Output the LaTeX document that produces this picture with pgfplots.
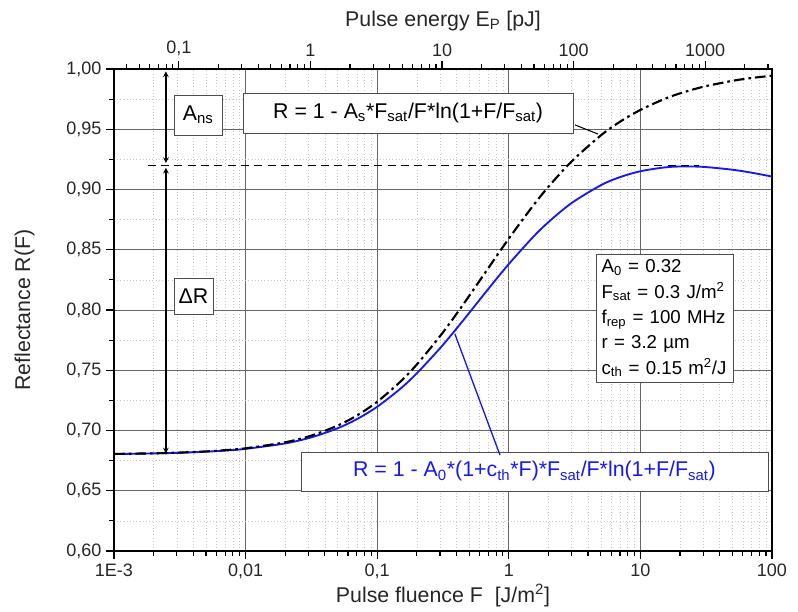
\documentclass[border=0pt]{standalone}
\usepackage{fontspec}
\setmainfont{Liberation Sans}
\usepackage{pgfplots}
\pgfplotsset{compat=1.18}
\definecolor{fitBlue}{RGB}{25,25,235}

\begin{document}
\begin{tikzpicture}
\begin{axis}[
    name=main,
    scale only axis,
    width=493.5pt, height=361.5pt,
    xmode=log,
    xmin=1e-3, xmax=100,
    ymin=0.6, ymax=1.0,
    xtick={0.001,0.01,0.1,1,10,100},
    xticklabels={1E-3,{0,01},{0,1},1,10,100},
    minor xtick={0.002,0.003,0.004,0.005,0.006,0.007,0.008,0.009,
                 0.02,0.03,0.04,0.05,0.06,0.07,0.08,0.09,
                 0.2,0.3,0.4,0.5,0.6,0.7,0.8,0.9,
                 2,3,4,5,6,7,8,9,20,30,40,50,60,70,80,90},
    ytick={0.60,0.65,0.70,0.75,0.80,0.85,0.90,0.95,1.00},
    minor ytick={0.625,0.675,0.725,0.775,0.825,0.875,0.925,0.975},
    grid=both,
    major grid style={draw=black!60, line width=0.5pt},
    minor grid style={draw=black!22, dotted},
    tick align=outside,
    xtick pos=bottom, ytick pos=left,
    major tick length=6pt, minor tick length=3.5pt,
    axis line style={line width=1.3pt},
    every tick/.style={black, line width=0.8pt},
    ticklabel style={font=\fontsize{13.5}{15}\selectfont, text=black!85},
    yticklabel style={/pgf/number format/.cd, fixed, fixed zerofill, precision=2, use comma},
    /pgf/number format/assume math mode=true,
    xlabel={Pulse fluence F\ \ [J/m\textsuperscript{2}]},
    ylabel={Reflectance R(F)},
    label style={font=\fontsize{16}{18}\selectfont, text=black!85},
    xlabel style={yshift=3pt},
    ylabel style={yshift=17pt},
]
% R = 1 - A0*(1+cth*F)*Fsat/F*ln(1+F/Fsat)
\addplot[fitBlue, line width=1.4pt, smooth] coordinates {
    (0.001,0.68048) (0.002,0.68097) (0.003162,0.68152) (0.005,0.68240)
    (0.007,0.68335) (0.01,0.68475) (0.02,0.68928) (0.03162,0.69432)
    (0.05,0.70181) (0.07,0.70936) (0.1,0.71968) (0.15,0.73466)
    (0.2,0.74745) (0.3,0.76821) (0.4,0.78445) (0.5,0.79756)
    (0.7,0.81755) (1,0.83812) (1.5,0.85953) (2,0.87290)
    (3,0.88874) (5,0.90351) (7,0.91026) (10,0.91513)
    (15,0.91822) (20,0.91908) (30,0.91877) (50,0.91641)
    (70,0.91394) (100,0.91073)
};
% R = 1 - As*Fsat/F*ln(1+F/Fsat)
\addplot[black, line width=1.6pt, smooth, dash pattern=on 8pt off 3pt on 2pt off 3pt] coordinates {
    (0.001,0.68053) (0.002,0.68106) (0.003162,0.68168) (0.005,0.68264)
    (0.007,0.68368) (0.01,0.68522) (0.02,0.69021) (0.03162,0.69576)
    (0.05,0.70403) (0.07,0.71238) (0.1,0.72383) (0.15,0.74050)
    (0.2,0.75480) (0.3,0.77819) (0.4,0.79665) (0.5,0.81168)
    (0.7,0.83488) (1,0.85923) (1.5,0.88533) (2,0.90223)
    (3,0.92327) (5,0.94486) (7,0.95623) (10,0.96605)
    (15,0.97484) (20,0.97977) (30,0.98523) (50,0.99017)
    (70,0.99252) (100,0.99442)
};
% saturation level
\addplot[black, line width=1pt, dash pattern=on 6pt off 4pt] coordinates {(0.0018,0.92) (28,0.92)};

\draw[<->, >=stealth, line width=0.9pt] (axis cs:0.00248,0.998) -- (axis cs:0.00248,0.922);
\draw[<->, >=stealth, line width=0.9pt] (axis cs:0.00248,0.918) -- (axis cs:0.00248,0.681);

\node[draw=black!70, fill=white, minimum width=36pt, minimum height=30pt, inner sep=2pt,
      font=\fontsize{16}{18}\selectfont] at (rel axis cs:0.128,0.905) {A\textsubscript{ns}};
\node[draw=black!70, fill=white, minimum width=29pt, minimum height=27pt, inner sep=2pt,
      font=\fontsize{16}{18}\selectfont] at (rel axis cs:0.1208,0.529) {ΔR};
\node[draw=black!70, fill=white, minimum width=247pt, minimum height=30pt, inner sep=2pt,
      font=\fontsize{16}{18}\selectfont]
    at (rel axis cs:0.447,0.909) {R = 1 - A\textsubscript{s}*F\textsubscript{sat}/F*ln(1+F/F\textsubscript{sat})};
\node[draw=black!70, fill=white, minimum width=350pt, minimum height=29pt, inner sep=2pt,
      font=\fontsize{16}{18}\selectfont, text=fitBlue]
    at (rel axis cs:0.639,0.165) {R = 1 - A\textsubscript{0}*(1+c\textsubscript{th}*F)*F\textsubscript{sat}/F*ln(1+F/F\textsubscript{sat})};
\node[draw=black!70, fill=white, anchor=north west, align=left, text width=95pt, inner sep=4pt,
      font=\fontsize{14}{19}\selectfont]
    at (rel axis cs:0.7325,0.616) {A\textsubscript{0} = 0.32\\
    F\textsubscript{sat} = 0.3 J/m\textsuperscript{2}\\
    f\textsubscript{rep} = 100 MHz\\
    r = 3.2 µm\\
    c\textsubscript{th} = 0.15 m\textsuperscript{2}/J};

\draw[black, line width=0.8pt] (rel axis cs:0.7006,0.884) -- (rel axis cs:0.7356,0.865);
\draw[fitBlue, line width=1pt] (rel axis cs:0.518,0.4506) -- (rel axis cs:0.5866,0.199);
\end{axis}

\begin{axis}[
    scale only axis,
    width=493.5pt, height=361.5pt,
    xmode=log,
    xmin=0.03217, xmax=3217,
    ymin=0, ymax=1,
    axis x line*=top,
    axis y line=none,
    xtick={0.1,1,10,100,1000},
    xticklabels={{0,1},1,10,100,1000},
    minor xtick={0.04,0.05,0.06,0.07,0.08,0.09,
                 0.2,0.3,0.4,0.5,0.6,0.7,0.8,0.9,
                 2,3,4,5,6,7,8,9,20,30,40,50,60,70,80,90,
                 200,300,400,500,600,700,800,900,2000,3000},
    tick align=outside,
    major tick length=6pt, minor tick length=3.5pt,
    axis line style={line width=1.3pt},
    every tick/.style={black, line width=0.8pt},
    ticklabel style={font=\fontsize{13.5}{15}\selectfont, text=black!85},
    /pgf/number format/assume math mode=true,
    xlabel={Pulse energy E\textsubscript{P} [pJ]},
    label style={font=\fontsize{16}{18}\selectfont, text=black!85},
    xlabel style={yshift=1pt},
]
\end{axis}

\pgfresetboundingbox
\path ([xshift=-85.5pt,yshift=-45.75pt]main.south west) rectangle ([xshift=19.5pt,yshift=51.75pt]main.north east);
\end{tikzpicture}
\end{document}
